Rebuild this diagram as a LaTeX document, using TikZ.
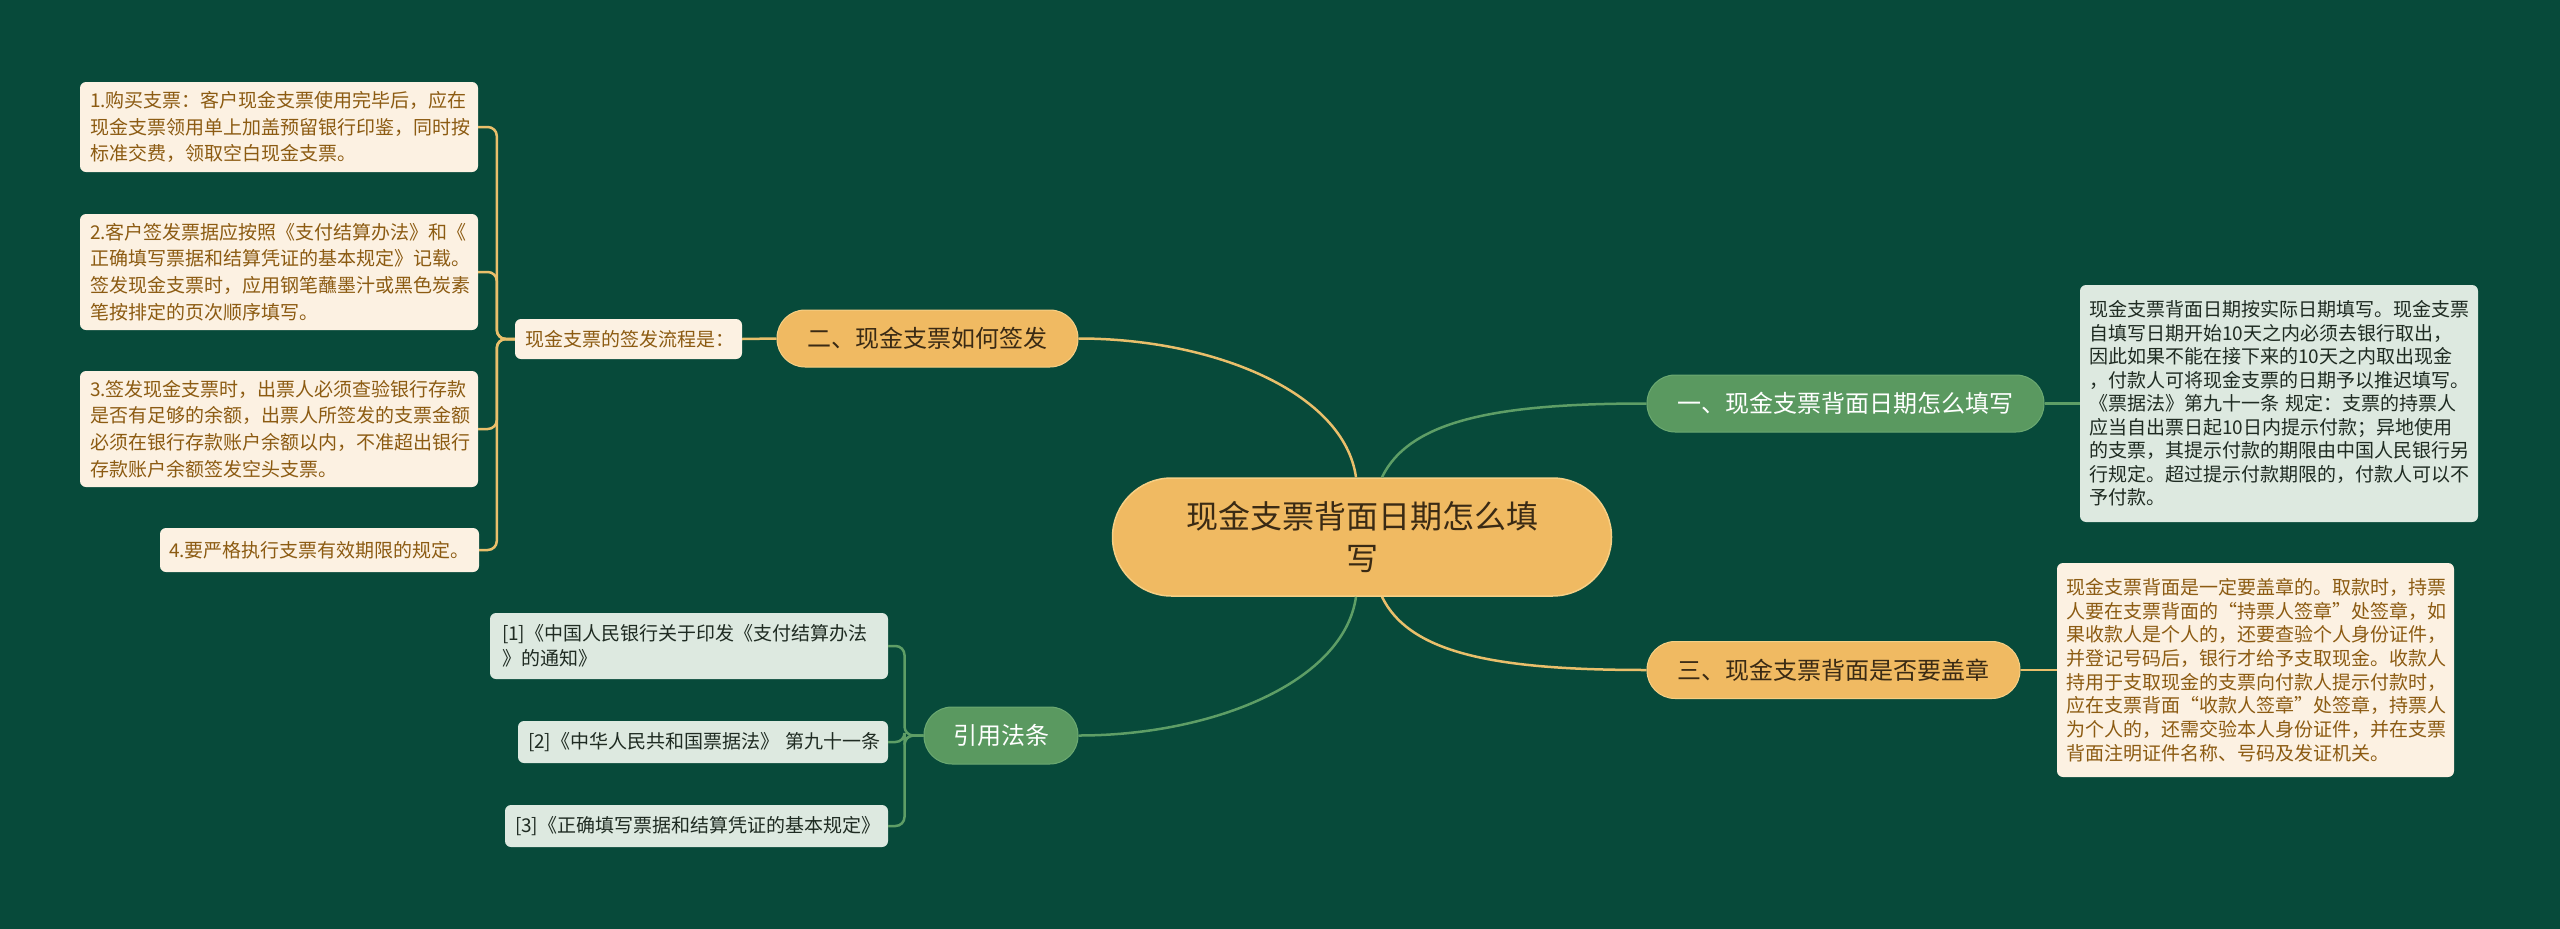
\documentclass[tikz,border=0pt]{standalone}
\usepackage{fontspec}
\setmainfont{Noto Sans CJK SC}
\definecolor{bgc}{HTML}{074A3A}
\definecolor{ofill}{HTML}{F0BA62}
\definecolor{oedge}{HTML}{F6CF84}
\definecolor{gfill}{HTML}{5A9960}
\definecolor{gedge}{HTML}{6BA971}
\definecolor{olinec}{HTML}{E9BF6B}
\definecolor{glinec}{HTML}{5E9E66}
\definecolor{creamc}{HTML}{FCF1E2}
\definecolor{brownc}{HTML}{8C5B12}
\definecolor{palec}{HTML}{DDE9E0}
\definecolor{darkc}{HTML}{1F2B22}
\definecolor{ctext}{HTML}{3A2A14}
\tikzset{
  mainnode/.style={fill=ofill, draw=oedge, line width=1.5pt, rounded corners=59pt,
    minimum width=499pt, minimum height=118pt, align=center, text=ctext,
    font=\fontsize{32}{41.7}\selectfont, inner sep=0pt},
  obranch/.style={fill=ofill, draw=oedge, line width=1pt, rounded corners=28pt,
    minimum height=57pt, inner sep=0pt, text=ctext, font=\fontsize{24}{30}\selectfont},
  gbranch/.style={fill=gfill, draw=gedge, line width=1pt, rounded corners=28pt,
    minimum height=57pt, inner sep=0pt, text=white, font=\fontsize{24}{30}\selectfont},
  cleaf/.style={fill=creamc, rounded corners=6pt, text=brownc, align=left,
    font=\fontsize{19}{26.7}\selectfont, inner xsep=10pt, inner ysep=0pt},
  pleaf/.style={fill=palec, rounded corners=6pt, text=darkc, align=left,
    font=\fontsize{19}{23.5}\selectfont, inner xsep=9pt, inner ysep=0pt},
  olink/.style={draw=olinec, line width=2.5pt},
  glink/.style={draw=glinec, line width=2.5pt},
}
\begin{document}
\begin{tikzpicture}[x=1pt,y=-1pt]
\fill[bgc] (0,0) rectangle (2560,929);
\useasboundingbox (0,0) rectangle (2560,929);

% connectors first (drawn under nodes) -- nodes defined below, so use coordinates via later layer
\begin{scope}
\node[mainnode] (c) at (1362,537) {现金支票背面日期怎么填\\写};
\node[obranch, minimum width=301pt] (n2) at (927.5,338.5) {二、现金支票如何签发};
\node[gbranch, minimum width=154pt] (n4) at (1001,735.5) {引用法条};
\node[gbranch, minimum width=397pt] (n1) at (1845.5,403.5) {一、现金支票背面日期怎么填写};
\node[obranch, minimum width=373pt] (n3) at (1833.5,670) {三、现金支票背面是否要盖章};

\node[cleaf, text width=207pt, minimum height=40pt] (la) at (628.5,339) {现金支票的签发流程是：};

\node[cleaf, text width=378pt, minimum height=90pt] (l1) at (279,127)
 {1.购买支票：客户现金支票使用完毕后，应在\\现金支票领用单上加盖预留银行印鉴，同时按\\标准交费，领取空白现金支票。};
\node[cleaf, text width=378pt, minimum height=116pt] (l2) at (279,272)
 {2.客户签发票据应按照《支付结算办法》和《\\正确填写票据和结算凭证的基本规定》记载。\\签发现金支票时，应用钢笔蘸墨汁或黑色炭素\\笔按排定的页次顺序填写。};
\node[cleaf, text width=378pt, minimum height=116pt] (l3) at (279,429)
 {3.签发现金支票时，出票人必须查验银行存款\\是否有足够的余额，出票人所签发的支票金额\\必须在银行存款账户余额以内，不准超出银行\\存款账户余额签发空头支票。};
\node[cleaf, text width=301pt, inner xsep=9pt, minimum height=44pt] (l4) at (319.5,550)
 {4.要严格执行支票有效期限的规定。};

\node[pleaf, text width=374pt, inner xsep=12pt, minimum height=66pt, font=\fontsize{19}{25}\selectfont] (r1) at (689,646)
 {[1]《中国人民银行关于印发《支付结算办法\\》的通知》};
\node[pleaf, text width=350pt, inner xsep=10pt, minimum height=42pt] (r2) at (703,742)
 {[2]《中华人民共和国票据法》~第九十一条};
\node[pleaf, text width=363pt, inner xsep=10pt, minimum height=42pt] (r3) at (696.5,826)
 {[3]《正确填写票据和结算凭证的基本规定》};

\node[pleaf, text width=380pt, minimum height=237pt] (b1) at (2279,403.5)
 {现金支票背面日期按实际日期填写。现金支票\\自填写日期开始10天之内必须去银行取出，\\因此如果不能在接下来的10天之内取出现金\\，付款人可将现金支票的日期予以推迟填写。\\《票据法》第九十一条~规定：支票的持票人\\应当自出票日起10日内提示付款；异地使用\\的支票，其提示付款的期限由中国人民银行另\\行规定。超过提示付款期限的，付款人可以不\\予付款。};
\node[cleaf, text width=379pt, inner xsep=9pt, minimum height=214pt, font=\fontsize{19}{23.7}\selectfont] (b3) at (2255.5,670)
 {现金支票背面是一定要盖章的。取款时，持票\\人要在支票背面的“持票人签章”处签章，如\\果收款人是个人的，还要查验个人身份证件，\\并登记号码后，银行才给予支取现金。收款人\\持用于支取现金的支票向付款人提示付款时，\\应在支票背面“收款人签章”处签章，持票人\\为个人的，还需交验本人身份证件，并在支票\\背面注明证件名称、号码及发证机关。};
\end{scope}

% main connectors
\draw[olink] ([xshift=-6pt]c.north) .. controls +(-12,-85) and +(135,0) .. (n2.east);
\draw[glink] ([xshift=20pt]c.north) .. controls +(28,-58) and +(-147,0) .. (n1.west);
\draw[glink] ([xshift=-6pt]c.south) .. controls +(-12,85) and +(135,0) .. (n4.east);
\draw[olink] ([xshift=20pt]c.south) .. controls +(28,58) and +(-147,0) .. (n3.west);

% second level
\draw[olink] (n2.west) -- (la.east);
\draw[glink] (n1.east) -- (b1.west);
\draw[olink] (n3.east) -- (b3.west);

% brackets
\foreach \k in {l1,l2,l3,l4}{
  \draw[olink, rounded corners=9pt] (la.west) -- ++(-18,0) |- (\k.east);
}
\foreach \k in {r1,r2,r3}{
  \draw[glink, rounded corners=9pt] (n4.west) -- ++(-19,0) |- (\k.east);
}
\end{tikzpicture}
\end{document}
